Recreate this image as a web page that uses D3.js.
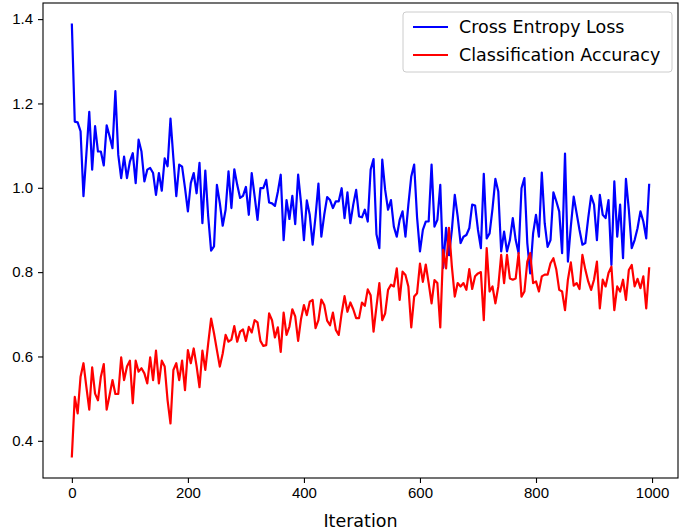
<!DOCTYPE html>
<html lang="en">
<head>
  <meta charset="UTF-8">
  <title>Loss and accuracy</title>
  <script src="https://d3js.org/d3.v7.min.js"></script>
  <style>
    html,body{margin:0;padding:0;background:#fff}
    svg{display:block;font-family:"DejaVu Sans",sans-serif}
    .tick text{font-size:15px;fill:#000}
    .tick line{stroke:#000;stroke-width:1.1px}
  </style>
</head>
<body>
<div id="chart"></div>
<script>
/* --- data: one value per 5 iterations --- */
const STEP = 5;
const lossValues = [
  1.387,1.157,1.155,1.134,0.980,1.080,1.180,1.043,1.146,1.086,
  1.086,1.053,1.148,1.122,1.094,1.229,1.078,1.023,1.074,1.023,
  1.062,1.082,1.011,1.114,1.086,1.015,1.043,1.047,1.035,0.983,
  1.035,0.993,1.070,1.051,1.164,1.070,0.980,1.055,1.050,1.000,
  0.944,1.011,1.035,0.987,1.059,0.916,1.041,0.932,0.851,0.861,
  1.007,0.964,0.910,0.948,1.039,0.952,1.044,1.007,0.976,0.981,
  1.002,0.936,1.035,0.980,0.924,0.999,0.999,1.019,0.965,0.963,
  0.957,0.990,1.031,0.876,0.971,0.926,0.981,0.914,1.031,0.964,
  0.876,0.970,0.936,0.865,0.932,1.010,0.884,0.936,0.978,0.971,
  0.952,0.968,0.968,0.999,0.928,0.989,0.916,0.960,0.995,0.932,
  0.930,0.948,0.920,1.043,1.068,0.890,0.857,1.067,0.995,0.948,
  0.971,0.908,0.884,0.924,0.944,0.884,0.960,1.027,1.055,0.930,
  0.849,0.900,0.920,0.920,1.055,0.908,0.924,1.007,0.810,0.905,
  0.840,0.900,0.983,0.932,0.869,0.884,0.888,0.904,0.960,0.958,
  0.900,0.857,1.033,0.880,0.892,0.950,1.021,0.991,0.849,0.896,
  0.849,0.876,0.928,0.876,0.845,0.999,1.023,0.869,0.797,0.892,
  0.936,0.884,1.036,0.916,0.860,0.876,0.989,0.968,0.944,0.845,
  1.081,0.825,0.908,0.979,0.940,0.900,0.865,0.869,0.928,0.981,
  0.960,0.876,0.983,0.936,0.928,0.971,0.817,1.015,0.884,0.960,
  0.833,1.021,0.948,0.857,0.876,0.904,0.944,0.920,0.880,1.007
];
const accValues = [
  0.363,0.504,0.465,0.552,0.584,0.528,0.474,0.574,0.512,0.496,
  0.552,0.582,0.474,0.508,0.544,0.511,0.511,0.598,0.544,0.576,
  0.590,0.489,0.590,0.564,0.572,0.560,0.536,0.598,0.544,0.614,
  0.536,0.590,0.576,0.496,0.441,0.568,0.584,0.544,0.590,0.520,
  0.615,0.584,0.619,0.577,0.527,0.614,0.568,0.631,0.690,0.655,
  0.615,0.576,0.607,0.651,0.635,0.640,0.672,0.635,0.659,0.664,
  0.637,0.670,0.657,0.686,0.681,0.637,0.625,0.627,0.702,0.686,
  0.645,0.669,0.611,0.704,0.651,0.671,0.712,0.695,0.637,0.689,
  0.722,0.698,0.730,0.734,0.667,0.686,0.735,0.722,0.685,0.674,
  0.704,0.663,0.651,0.702,0.743,0.706,0.728,0.712,0.691,0.691,
  0.728,0.720,0.759,0.745,0.659,0.718,0.774,0.686,0.702,0.758,
  0.770,0.766,0.809,0.734,0.801,0.793,0.766,0.669,0.742,0.750,
  0.820,0.777,0.818,0.774,0.726,0.781,0.774,0.669,0.853,0.809,
  0.905,0.813,0.742,0.774,0.766,0.774,0.758,0.807,0.760,0.790,
  0.797,0.800,0.686,0.857,0.754,0.766,0.726,0.766,0.841,0.774,
  0.841,0.785,0.782,0.785,0.845,0.742,0.754,0.825,0.845,0.774,
  0.778,0.754,0.790,0.794,0.794,0.821,0.833,0.806,0.758,0.754,
  0.710,0.782,0.823,0.768,0.774,0.760,0.841,0.806,0.778,0.758,
  0.782,0.825,0.714,0.782,0.766,0.798,0.813,0.710,0.766,0.754,
  0.782,0.734,0.805,0.817,0.766,0.784,0.762,0.790,0.714,0.809
];
const xTicks = [0, 200, 400, 600, 800, 1000];
const yTicks = [0.4, 0.6, 0.8, 1.0, 1.2, 1.4];
const seriesNames = ["Cross Entropy Loss", "Classification Accuracy"];
const seriesColors = ["#0000ff", "#ff0000"];
const xLabel = "Iteration";

/* --- size --- */
const W = 685, H = 532;
const plot = {left: 43, right: 678, top: 3, bottom: 478};

const svg = d3.select("#chart").append("svg")
  .attr("width", W).attr("height", H);

const series = [lossValues, accValues].map((vals, k) => ({
  name: seriesNames[k],
  color: seriesColors[k],
  points: vals.map((v, i) => ({it: i * STEP, v}))
}));

/* matplotlib style 5% margins */
const xs = [0, (lossValues.length - 1) * STEP];
const allV = lossValues.concat(accValues);
const ys = d3.extent(allV);
const xPad = (xs[1] - xs[0]) * 0.05, yPad = (ys[1] - ys[0]) * 0.05;

const x = d3.scaleLinear().domain([xs[0] - xPad, xs[1] + xPad])
  .range([plot.left, plot.right]);
const y = d3.scaleLinear().domain([ys[0] - yPad, ys[1] + yPad])
  .range([plot.bottom, plot.top]);

/* --- axes --- */
const gx = svg.append("g")
  .attr("transform", `translate(0,${plot.bottom})`)
  .call(d3.axisBottom(x).tickValues(xTicks).tickFormat(d3.format("d"))
    .tickSize(5).tickPadding(4).tickSizeOuter(0));
const gy = svg.append("g")
  .attr("transform", `translate(${plot.left},0)`)
  .call(d3.axisLeft(y).tickValues(yTicks).tickFormat(d3.format(".1f"))
    .tickSize(5).tickPadding(5).tickSizeOuter(0));
gx.select(".domain").remove();
gy.select(".domain").remove();
gx.selectAll("text").attr("font-family", null);
gy.selectAll("text").attr("font-family", null);

/* --- lines --- */
const line = d3.line().x(d => x(d.it)).y(d => y(d.v));
series.forEach(s => {
  svg.append("path").datum(s.points)
    .attr("fill", "none").attr("stroke", s.color)
    .attr("stroke-width", 2.2).attr("stroke-linejoin", "round")
    .attr("stroke-linecap", "square")
    .attr("d", line);
});

/* --- frame --- */
svg.append("rect")
  .attr("x", plot.left).attr("y", plot.top)
  .attr("width", plot.right - plot.left).attr("height", plot.bottom - plot.top)
  .attr("fill", "none").attr("stroke", "#000").attr("stroke-width", 1.1);

/* --- x label --- */
svg.append("text")
  .attr("x", (plot.left + plot.right) / 2).attr("y", 527)
  .attr("text-anchor", "middle").attr("font-size", 17.5)
  .text(xLabel);

/* --- legend --- */
const lg = svg.append("g").attr("transform", "translate(403,12)");
lg.append("rect").attr("width", 269).attr("height", 60).attr("rx", 3)
  .attr("fill", "#fff").attr("fill-opacity", 0.8)
  .attr("stroke", "#cccccc").attr("stroke-width", 1);
series.forEach((s, i) => {
  const cy = 15 + i * 28;
  lg.append("line").attr("x1", 10).attr("x2", 45)
    .attr("y1", cy).attr("y2", cy)
    .attr("stroke", s.color).attr("stroke-width", 2.2);
  lg.append("text").attr("x", 56).attr("y", cy).attr("dy", "0.35em")
    .attr("font-size", 17.5).text(s.name);
});
</script>
</body>
</html>
